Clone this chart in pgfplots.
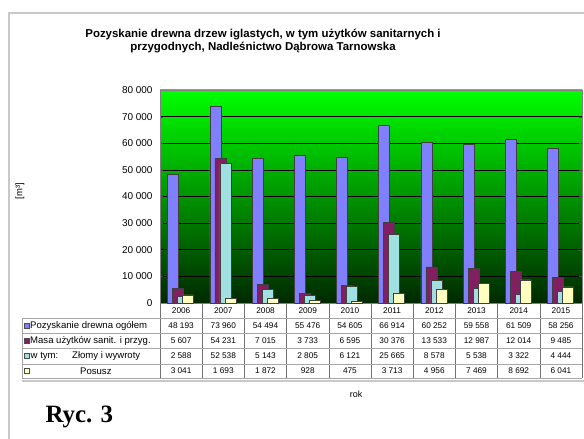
\documentclass[border=0pt]{standalone}
\usepackage{pgfplots}
\pgfplotsset{compat=1.18}
\usepackage{fontspec}
\setmainfont{Liberation Sans}
\newfontfamily\rycfont{Liberation Serif}

\definecolor{cBlue}{RGB}{128,128,255}
\definecolor{cMaroon}{RGB}{128,32,96}
\definecolor{cCyan}{RGB}{160,224,224}
\definecolor{cYellow}{RGB}{255,255,192}
\definecolor{gTop}{RGB}{0,255,0}
\definecolor{gBot}{RGB}{0,40,0}
\definecolor{frame}{RGB}{200,200,200}

\begin{document}
\begin{tikzpicture}[x=1bp,y=1bp]
\useasboundingbox (0,0) rectangle (584,439);
% page frame
\draw[frame, line width=1.2bp] (9,0) -- (9,426) -- (584,426);
\draw[frame, line width=1.2bp] (22,58) -- (584,58);

% title
\node[font=\bfseries\fontsize{11.5}{13.5}\selectfont, align=center] at (263,398)
  {Pozyskanie drewna drzew iglastych, w tym użytków sanitarnych i\\przygodnych, Nadleśnictwo Dąbrowa Tarnowska};

\begin{axis}[
  at={(160bp,136bp)}, anchor=south west,
  width=422bp, height=213bp, scale only axis,
  xmin=-0.5, xmax=9.5, ymin=0, ymax=80000,
  xtick=\empty,
  ytick={0,10000,...,80000},
  scaled y ticks=false,
  /pgf/number format/.cd, 1000 sep={\ }, assume math mode=true,
  /pgfplots/.cd,
  yticklabel style={font=\fontsize{10}{10}\selectfont, xshift=-4bp},
  major tick length=3bp,
  tick style={black!70},
  ymajorgrids, grid style={black, line width=0.6bp},
  axis line style={black!50, line width=0.5bp},
  axis background/.style={shade, top color=gTop, bottom color=gBot},
  ylabel={[m³]},
  every axis y label/.style={at={(-140bp,112bp)}, rotate=90, anchor=center, font=\fontsize{9.5}{10}\selectfont},
  clip=false,
]
\addplot[ybar, bar width=11bp, bar shift=-8bp, fill=cBlue, draw=black!75, line width=0.6bp] coordinates {
  (0,48193) (1,73960) (2,54494) (3,55476) (4,54605)
  (5,66914) (6,60252) (7,59558) (8,61509) (9,58256)};
\addplot[ybar, bar width=11bp, bar shift=-3bp, fill=cMaroon, draw=black!75, line width=0.6bp] coordinates {
  (0,5607) (1,54231) (2,7015) (3,3733) (4,6595)
  (5,30376) (6,13533) (7,12987) (8,12014) (9,9485)};
\addplot[ybar, bar width=11bp, bar shift=2bp, fill=cCyan, draw=black!75, line width=0.6bp] coordinates {
  (0,2588) (1,52538) (2,5143) (3,2805) (4,6121)
  (5,25665) (6,8578) (7,5538) (8,3322) (9,4444)};
\addplot[ybar, bar width=11bp, bar shift=7bp, fill=cYellow, draw=black!75, line width=0.6bp] coordinates {
  (0,3041) (1,1693) (2,1872) (3,928) (4,475)
  (5,3713) (6,4956) (7,7469) (8,8692) (9,6041)};
\end{axis}

% data table
\foreach \k in {0,...,10} \draw[black!55, line width=0.6bp] (160+42.2*\k,136) -- (160+42.2*\k,61);
\foreach \yy in {121,106,91,75,61} \draw[black!35, line width=0.6bp] (22,\yy) -- (582,\yy);
\draw[black!35, line width=0.6bp] (22,121) -- (22,61);
\begin{scope}[every node/.style={font=\fontsize{8.3}{9}\selectfont, inner sep=0pt}]
\foreach \i/\yr/\a/\b/\c/\d in {
  0/2006/48 193/5 607/2 588/3 041,
  1/2007/73 960/54 231/52 538/1 693,
  2/2008/54 494/7 015/5 143/1 872,
  3/2009/55 476/3 733/2 805/928,
  4/2010/54 605/6 595/6 121/475,
  5/2011/66 914/30 376/25 665/3 713,
  6/2012/60 252/13 533/8 578/4 956,
  7/2013/59 558/12 987/5 538/7 469,
  8/2014/61 509/12 014/3 322/8 692,
  9/2015/58 256/9 485/4 444/6 041} {
  \node at (181.1+42.2*\i,128) {\yr};
  \node at (181.1+42.2*\i,113) {\a};
  \node at (181.1+42.2*\i,98) {\b};
  \node at (181.1+42.2*\i,83) {\c};
  \node at (181.1+42.2*\i,68) {\d};
}
\filldraw[fill=cBlue, draw=black!70, line width=0.4bp] (24.5,110.5) rectangle (29.5,115.5);
\filldraw[fill=cMaroon, draw=black!70, line width=0.4bp] (24.5,95.5) rectangle (29.5,100.5);
\filldraw[fill=cCyan, draw=black!70, line width=0.4bp] (24.5,80.5) rectangle (29.5,85.5);
\filldraw[fill=cYellow, draw=black!70, line width=0.4bp] (24.5,65.5) rectangle (29.5,70.5);
\end{scope}
\begin{scope}[every node/.style={font=\fontsize{9.6}{10}\selectfont, inner sep=0pt}]
\node[anchor=west] at (30,113) {Pozyskanie drewna ogółem};
\node[anchor=west] at (30,98) {Masa użytków sanit. i przyg.};
\node[anchor=west] at (30.5,83) {w tym:};
\node[anchor=west] at (72,83) {Złomy i wywroty};
\node[anchor=west] at (80,68) {Posusz};
\end{scope}

\node[font=\fontsize{9}{10}\selectfont] at (356,45) {rok};
\node[font=\rycfont\bfseries\fontsize{25}{28}\selectfont, anchor=base west] at (42,16) {Ryc. 3};
\end{tikzpicture}
\end{document}
